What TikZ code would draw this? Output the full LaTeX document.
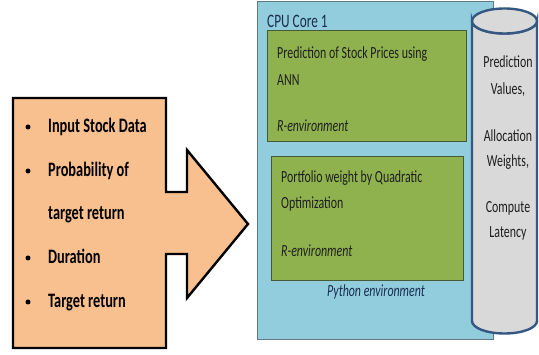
\documentclass[tikz,border=0pt]{standalone}
\usepackage{fontspec}
\setmainfont{Carlito}[FakeStretch=0.7]
\definecolor{peach}{RGB}{249,192,143}
\definecolor{corebg}{RGB}{146,205,221}
\definecolor{coreedge}{RGB}{95,120,135}
\definecolor{taskbg}{RGB}{143,178,78}
\definecolor{taskedge}{RGB}{70,90,55}
\definecolor{drumbg}{RGB}{217,217,217}
\definecolor{drumedge}{RGB}{52,88,130}
\definecolor{navy}{RGB}{25,45,80}
\definecolor{ink}{RGB}{30,30,30}
\begin{document}
\begin{tikzpicture}[x=1pt,y=-1pt,
  corebox/.style={draw=coreedge,line width=1pt,fill=corebg,anchor=north west,inner sep=0pt},
  taskbox/.style={draw=taskedge,line width=1pt,fill=taskbg,anchor=north west,inner sep=0pt},
  tasktxt/.style={anchor=base west,inner sep=0pt,text=ink,font=\fontsize{17}{20}\selectfont},
  drumtxt/.style={anchor=base,inner sep=0pt,text=ink,font=\fontsize{17}{20}\selectfont},
  itemtxt/.style={anchor=base west,inner sep=0pt,text=black,font=\fontsize{20.5}{24}\selectfont\bfseries},
  dot/.style={circle,fill=black,inner sep=0pt,minimum size=5pt}]
\useasboundingbox (0,0) rectangle (539,355);

% input block shaped as a box with an arrow
\draw[line width=2.4pt,fill=peach,line join=miter]
  (13,98) -- (166,98) -- (166,192) -- (187,192) -- (187,150) -- (248,224)
  -- (187,298) -- (187,254) -- (166,254) -- (166,348) -- (13,348) -- cycle;
\coordinate (inputs) at (13,98);

\node[dot] (b1) at (28,127) {};
\node[dot] (b2) at (28,171) {};
\node[dot] (b3) at (28,258) {};
\node[dot] (b4) at (28,302) {};
\node[itemtxt] (i1) at (48,133) {Input Stock Data};
\node[itemtxt] (i2) at (48,177) {Probability of};
\node[itemtxt] (i3) at (48,220) {target return};
\node[itemtxt] (i4) at (48,264) {Duration};
\node[itemtxt] (i5) at (48,308) {Target return};

% CPU core with its two R tasks
\node[corebox,minimum width=236pt,minimum height=338pt] (core) at (257,1) {};
\node[anchor=base west,inner sep=0pt,text=navy,font=\fontsize{19}{22}\selectfont] (coretitle) at (267,28) {CPU Core 1};

\node[taskbox,minimum width=199pt,minimum height=111pt] (ann) at (267,30) {};
\node[tasktxt] (ann1) at (277,59) {Prediction of Stock Prices using};
\node[tasktxt] (ann2) at (277,86) {ANN};
\node[tasktxt,font=\fontsize{17}{20}\selectfont\itshape] (ann3) at (277,132) {R-environment};

\node[taskbox,minimum width=192pt,minimum height=124pt] (qp) at (271,156) {};
\node[tasktxt] (qp1) at (281,183) {Portfolio weight by Quadratic};
\node[tasktxt] (qp2) at (281,209) {Optimization};
\node[tasktxt,font=\fontsize{17}{20}\selectfont\itshape] (qp3) at (281,257) {R-environment};

\node[anchor=base,inner sep=0pt,text=navy,font=\fontsize{17}{20}\selectfont\itshape] (py) at (376,297) {Python environment};

% result store drawn as a cylinder
\draw[drumedge,line width=2.4pt,fill=drumbg]
  (472,21) -- (472,321) arc[start angle=180,end angle=360,x radius=32.5pt,y radius=12.5pt]
  -- (537,21) arc[start angle=0,end angle=-180,x radius=32.5pt,y radius=12.5pt] -- cycle;
\draw[drumedge,line width=2.4pt,fill=drumbg] (504.5,21) ellipse[x radius=32.5pt,y radius=12.5pt];
\coordinate (store) at (504.5,21);

\node[drumtxt] (s1) at (508,68) {Prediction};
\node[drumtxt] (s2) at (508,95) {Values,};
\node[drumtxt] (s3) at (508,142) {Allocation};
\node[drumtxt] (s4) at (508,167) {Weights,};
\node[drumtxt] (s5) at (508,213) {Compute};
\node[drumtxt] (s6) at (508,238) {Latency};
\end{tikzpicture}
\end{document}
